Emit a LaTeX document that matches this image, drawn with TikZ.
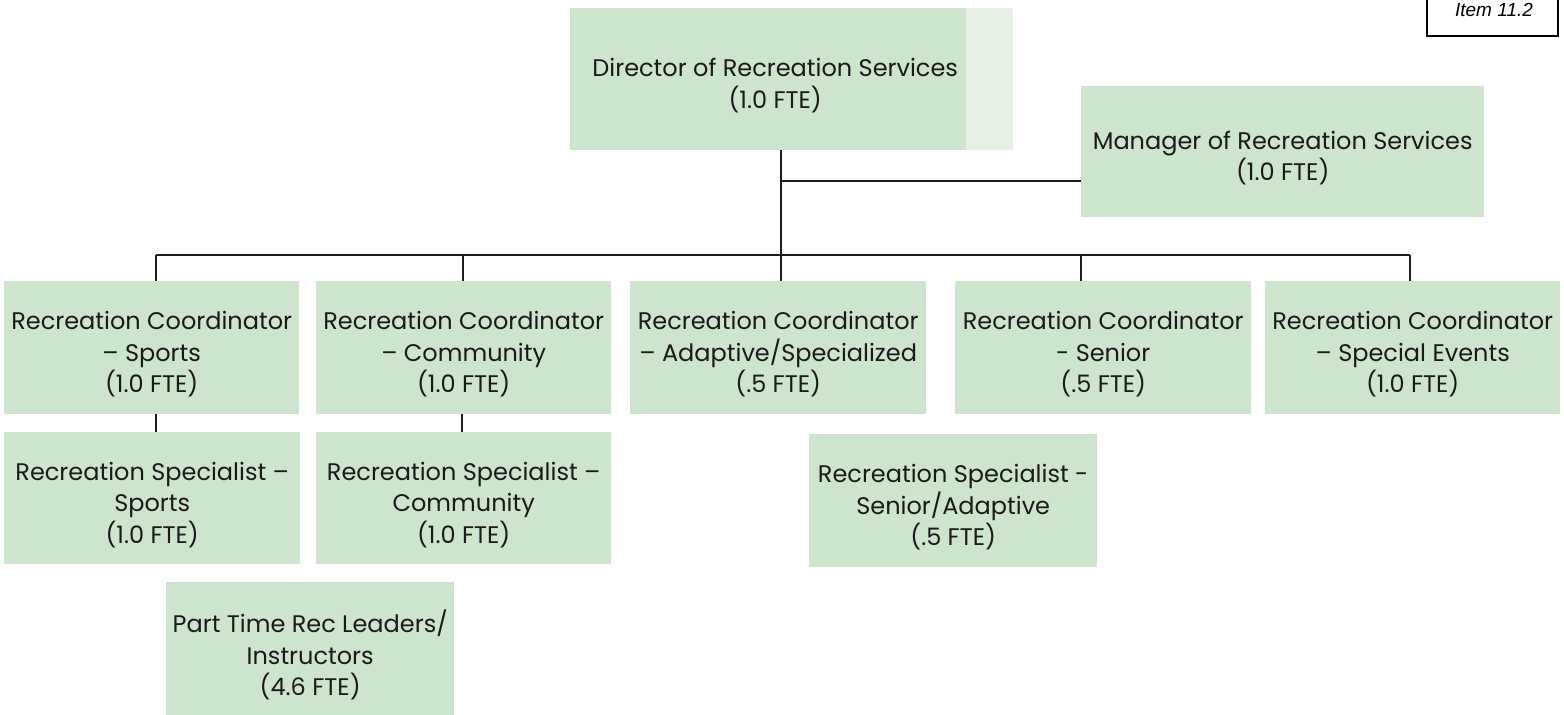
\documentclass[tikz,border=0pt]{standalone}
\usepackage{fontspec}
\setmainfont{Poppins}
\newfontfamily\itemfont{Liberation Sans}
\definecolor{boxgreen}{RGB}{205,229,204}
\definecolor{palegreen}{RGB}{230,240,228}
\definecolor{ink}{RGB}{26,26,26}
\definecolor{wirecol}{RGB}{30,30,30}

\tikzset{
  orgbox/.style={fill=boxgreen, inner sep=0pt, anchor=north west},
  orglabel/.style={inner sep=0pt, align=center, text=ink,
    font=\fontsize{24}{31.5}\selectfont},
  wire/.style={draw=wirecol, line width=1.5pt},
}
% \orgunit{name}{left}{top}{width}{height}{label}: green box with its label set a little low
\newcommand\orgunit[6]{%
  \node[orgbox, minimum width=#4pt, minimum height=#5pt] (#1) at (#2,#3) {};
  \node[orglabel] (#1-label) at ([yshift=-6.5pt]#1.center) {#6};}

\begin{document}
\begin{tikzpicture}[x=1pt, y=-1pt]
\useasboundingbox (0,0) rectangle (1564,715);

% boxes
\orgunit{dir}{570}{8}{410}{142}{Director of Recreation Services\\(1.0 FTE)}
\fill[palegreen] (966,8) rectangle (1013,150);
\orgunit{mgr}{1081}{86}{403}{131}{Manager of Recreation Services\\(1.0 FTE)}

\orgunit{sp}{4}{281}{295}{133}{Recreation Coordinator\\– Sports\\(1.0 FTE)}
\orgunit{cm}{316}{281}{295}{133}{Recreation Coordinator\\– Community\\(1.0 FTE)}
\orgunit{ad}{630}{281}{296}{133}{Recreation Coordinator\\– Adaptive/Specialized\\(.5 FTE)}
\orgunit{sn}{955}{281}{296}{133}{Recreation Coordinator\\- Senior\\(.5 FTE)}
\orgunit{se}{1265}{281}{295}{133}{Recreation Coordinator\\– Special Events\\(1.0 FTE)}

\orgunit{spS}{4}{432}{296}{132}{Recreation Specialist –\\Sports\\(1.0 FTE)}
\orgunit{cmS}{316}{432}{295}{132}{Recreation Specialist –\\Community\\(1.0 FTE)}
\orgunit{snS}{809}{434}{288}{133}{Recreation Specialist -\\Senior/Adaptive\\(.5 FTE)}
\orgunit{pt}{166}{582}{288}{133}{Part Time Rec Leaders/\\Instructors\\(4.6 FTE)}

% connector junctions
\coordinate (trunk) at (781,150);
\coordinate (mgrJ) at (781,181);
\coordinate (busL) at (156,255);
\coordinate (busR) at (1410,255);
\coordinate (dCm) at (463,255);
\coordinate (dAd) at (781,255);
\coordinate (dSn) at (1081,255);
\coordinate (spJ) at (156,414);
\coordinate (cmJ) at (462,414);

% director trunk and manager branch
\draw[wire] (trunk) -- (dAd |- ad.north);
\draw[wire] (mgrJ) -- (mgrJ -| mgr.west);
% coordinator bus and drops
\draw[wire] (busL) -- (busR);
\draw[wire] (busL) -- (busL |- sp.north);
\draw[wire] (dCm) -- (dCm |- cm.north);
\draw[wire] (dSn) -- (dSn |- sn.north);
\draw[wire] (busR) -- (busR |- se.north);
% coordinator to specialist
\draw[wire] (spJ) -- (spJ |- spS.north);
\draw[wire] (cmJ) -- (cmJ |- cmS.north);

% agenda item tag
\draw[line width=2pt, black] (1427,-10) rectangle (1558,36);
\node[anchor=base, inner sep=0pt, font=\itemfont\itshape\fontsize{19}{22}\selectfont] (item) at (1494,16) {Item 11.2};
\end{tikzpicture}
\end{document}
